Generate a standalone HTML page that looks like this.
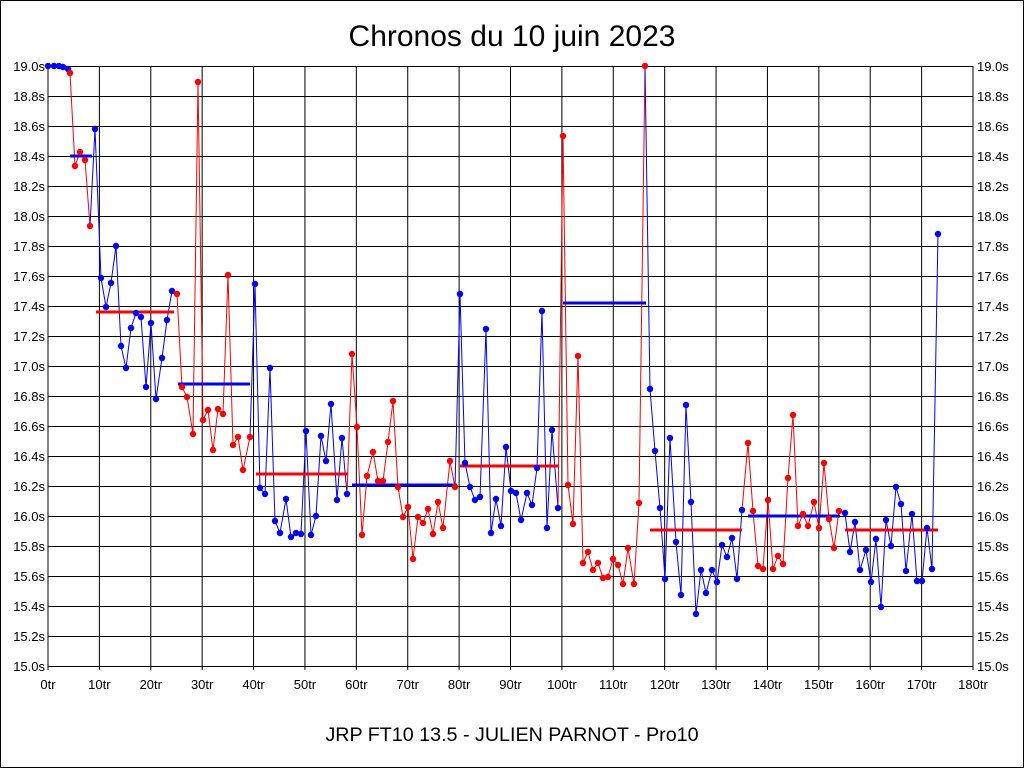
<!DOCTYPE html>
<html><head><meta charset="utf-8"><style>
html,body{margin:0;padding:0;background:#fff}
svg{display:block}
text{font-family:"Liberation Sans",sans-serif}
</style></head><body>
<svg id="s" width="1024" height="768" xmlns="http://www.w3.org/2000/svg">
<rect x="0.5" y="0.5" width="1023" height="767" fill="#fff" stroke="#000"/>
<text x="512" y="46" font-size="30" text-anchor="middle">Chronos du 10 juin 2023</text>
<text x="512" y="741" font-size="19.7" text-anchor="middle">JRP FT10 13.5 - JULIEN PARNOT - Pro10</text>
<g id="grid"></g>
<g id="data"></g>
</svg>
<script>
const NS="http://www.w3.org/2000/svg";
const g=document.getElementById('grid'), d=document.getElementById('data');
function el(p,tag,a,t){const e=document.createElementNS(NS,tag);for(const k in a)e.setAttribute(k,a[k]);if(t!==undefined)e.textContent=t;p.appendChild(e);return e;}
const X0=48,X1=973,Y0=66,Y1=666;
for(let i=0;i<=20;i++){const y=Y0+i*30;el(g,'line',{x1:X0,x2:X1,y1:y+0.5,y2:y+0.5,stroke:'#000','stroke-width':1});
 const v=(19-i*0.2).toFixed(1)+'s';
 el(g,'text',{x:X0-3,y:y+5,'font-size':13,'text-anchor':'end'},v);
 el(g,'text',{x:X1+4,y:y+5,'font-size':13},v);}
for(let i=0;i<=18;i++){const x=X0+i*(X1-X0)/18;el(g,'line',{x1:x,x2:x,y1:Y0,y2:Y1+4,stroke:'#000','stroke-width':1});
 el(g,'text',{x:x,y:Y1+23,'font-size':13,'text-anchor':'middle'},(i*10)+'tr');}
const segs=[
['b',[[48,66],[54,66],[59,66],[63,67],[68,69]]],
['r',[[70,73],[75,166],[80,152],[85,160],[90,226]]],
['b',[[95,129],[101,278],[106,307],[111,283],[116,246],[121,346],[126,368],[131,328],[136,313],[141,317],[146,387],[151,323],[156,399],[162,358],[167,320],[172,291]]],
['r',[[177,294],[182,387],[187,397],[193,434],[198,82],[203,420],[208,410],[213,450],[218,409],[223,414],[228,275],[233,445],[238,437],[243,470],[250,437]]],
['b',[[255,284],[260,488],[265,494],[270,368],[275,521],[280,533],[286,499],[291,537],[296,533],[301,534],[306,431],[311,535],[316,516],[321,436],[326,461],[331,404],[337,500],[342,438],[347,494]]],
['r',[[352,354],[357,427],[362,535],[367,476],[373,452],[378,481],[383,481],[388,442],[393,401],[398,487],[403,517],[408,507],[413,559],[418,517],[423,523],[428,509],[433,534],[438,502],[443,528],[450,461],[455,487]]],
['b',[[460,294],[465,463],[470,487],[475,500],[480,497],[486,329],[491,533],[496,499],[501,526],[506,447],[511,491],[516,493],[521,520],[527,493],[532,505],[537,468],[542,311],[547,528],[552,430],[558,508]]],
['r',[[563,136],[568,485],[573,524],[578,356],[583,563],[588,552],[593,570],[598,563],[603,578],[608,577],[613,559],[618,565],[623,584],[628,548],[634,584],[639,503],[645,66]]],
['b',[[650,389],[655,451],[660,508],[665,579],[670,438],[676,542],[681,595],[686,405],[691,502],[696,614],[701,570],[706,593],[712,570],[717,582],[722,545],[727,557],[732,538],[737,579],[742,510]]],
['r',[[748,443],[753,511],[758,566],[763,569],[768,500],[773,569],[778,556],[783,564],[788,478],[793,415],[798,526],[803,514],[808,526],[814,502],[819,528],[824,463],[829,519],[834,548],[839,511]]],
['b',[[845,513],[850,552],[855,522],[860,570],[866,550],[871,582],[876,539],[881,607],[886,520],[891,546],[896,487],[901,504],[906,571],[912,514],[917,581],[922,581],[927,528],[932,569],[938,234]]]
];
const C={b:'#0000ff',r:'#ff0000'};
const avgs=[['b',70,92,156],['r',96,174,312],['b',178,250,384],['r',256,348,474],['b',352,457,485],['r',460,558,466],['b',563,646,303],['r',650,742,530],['b',748,840,516],['r',845,938,530]];
let prev=null;
segs.forEach(([c,pts])=>{
 const all=prev?[prev].concat(pts):pts;
 el(d,'polyline',{points:all.map(p=>p.join(',')).join(' '),fill:'none',stroke:C[c],'stroke-width':1});
 prev=pts[pts.length-1];
});
avgs.forEach(([c,a,b,y])=>el(d,'line',{x1:a,x2:b,y1:y,y2:y,stroke:C[c],'stroke-width':3}));
segs.forEach(([c,pts])=>pts.forEach(p=>el(d,'circle',{cx:p[0],cy:p[1],r:3.2,fill:C[c]})));
</script>
</body></html>
